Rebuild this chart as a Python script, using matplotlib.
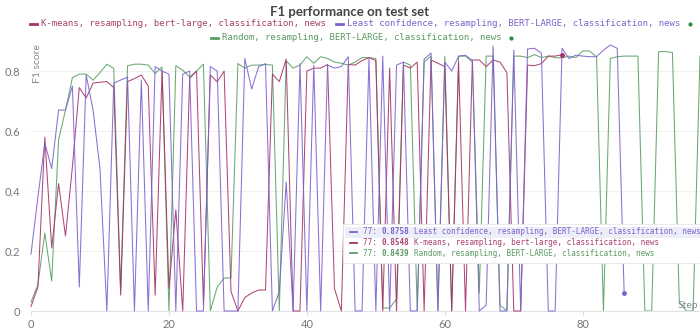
import matplotlib
matplotlib.use('Agg')
import matplotlib.pyplot as plt
from matplotlib.lines import Line2D
from matplotlib.patches import Rectangle

# step index is the position in each list
kmeans = [0.015, 0.08, 0.58, 0.21, 0.425, 0.25, 0.48, 0.745, 0.71, 0.76,
          0.763, 0.765, 0.745, 0.053, 0.765, 0.775, 0.787, 0.75, 0.053, 0.80,
          0.075, 0.337, 0.0, 0.776, 0.80, 0.02, 0.787, 0.764, 0.80, 0.065,
          0.0, 0.045, 0.06, 0.07, 0.07, 0.79, 0.765, 0.84, 0.0, 0.0,
          0.80, 0.81, 0.81, 0.822, 0.075, 0.0, 0.822, 0.82, 0.835, 0.845,
          0.835, 0.0, 0.81, 0.0, 0.82, 0.81, 0.83, 0.0, 0.837, 0.826,
          0.815, 0.0, 0.83, 0.0, 0.837, 0.837, 0.815, 0.837, 0.83, 0.795,
          0.0, 0.0, 0.82, 0.818, 0.825, 0.85, 0.85, 0.8548]

least_conf = [0.19, 0.38, 0.56, 0.475, 0.67, 0.67, 0.75, 0.08, 0.787, 0.67,
              0.475, 0.0, 0.76, 0.77, 0.78, 0.0, 0.77, 0.0, 0.815, 0.80,
              0.79, 0.0, 0.79, 0.80, 0.0, 0.0, 0.815, 0.80, 0.0, 0.0,
              0.0, 0.842, 0.74, 0.815, 0.825, 0.0, 0.065, 0.43, 0.0, 0.825,
              0.0, 0.82, 0.0, 0.82, 0.81, 0.815, 0.848, 0.0, 0.0, 0.842,
              0.0, 0.85, 0.0, 0.82, 0.83, 0.0, 0.0, 0.84, 0.86, 0.0,
              0.83, 0.80, 0.85, 0.853, 0.835, 0.0, 0.02, 0.883, 0.0, 0.0,
              0.87, 0.0, 0.874, 0.876, 0.86, 0.0, 0.0, 0.8758, 0.842, 0.853,
              0.85, 0.848, 0.848, 0.87, 0.887, 0.876, 0.06]

random_s = [0.03, 0.087, 0.26, 0.10, 0.57, 0.67, 0.778, 0.79, 0.79, 0.77,
            0.795, 0.823, 0.809, 0.07, 0.818, 0.823, 0.823, 0.82, 0.792, 0.814,
            0.0, 0.818, 0.803, 0.78, 0.80, 0.823, 0.0, 0.08, 0.11, 0.11,
            0.825, 0.81, 0.82, 0.82, 0.822, 0.82, 0.0, 0.834, 0.81, 0.82,
            0.848, 0.826, 0.848, 0.842, 0.83, 0.826, 0.82, 0.83, 0.845, 0.845,
            0.842, 0.01, 0.01, 0.04, 0.83, 0.82, 0.0, 0.83, 0.85, 0.0,
            0.85, 0.0, 0.85, 0.85, 0.83, 0.06, 0.85, 0.85, 0.02, 0.0,
            0.85, 0.85, 0.845, 0.855, 0.845, 0.85, 0.845, 0.8439, 0.85, 0.845,
            0.867, 0.867, 0.848, 0.0, 0.842, 0.848, 0.85, 0.85, 0.85, 0.0,
            0.0, 0.865, 0.865, 0.862, 0.03, 0.0, 0.0, 0.85]

names = ['K-means, resampling, bert-large, classification, news',
         'Least confidence, resampling, BERT-LARGE, classification, news',
         'Random, resampling, BERT-LARGE, classification, news']
line_colors = ['#a5336a', '#7f60cf', '#58a062']
text_colors = ['#a8406f', '#7d62cc', '#5b9a62']
hover_step = 77

x_ticks = [0, 20, 40, 60, 80]
y_ticks = [0, 0.2, 0.4, 0.6, 0.8]

W, H = 700, 331
MONO = 'DejaVu Sans Mono'


def fx(px):
    return px / W


def fy(py):
    return 1 - py / H


fig = plt.figure(figsize=(7, 3.31), dpi=100)
ax = fig.add_axes([fx(31), fy(311), fx(669), 266 / H])

series = [kmeans, least_conf, random_s]
order = [2, 0, 1]
for i in order:
    vals = series[i]
    ax.plot(range(len(vals)), vals, color=line_colors[i], lw=0.75, alpha=0.9,
            clip_on=False, zorder=2 + order.index(i))
# end markers for finished runs
for i in [0, 1]:
    vals = series[i]
    ax.plot([len(vals) - 1], [vals[-1]], 'o', ms=2.5, color=line_colors[i],
            clip_on=False, zorder=4)

ax.set_xlim(0, 97)
ax.set_ylim(0, 0.887)
ax.set_xticks(x_ticks)
ax.set_yticks(y_ticks)
ax.set_yticklabels(['%g' % v for v in y_ticks])
for s in ['top', 'right', 'left']:
    ax.spines[s].set_visible(False)
ax.spines['bottom'].set_color('#e2e2e2')
ax.grid(axis='y', color='#f1f1f1', lw=0.8)
ax.set_axisbelow(True)
ax.tick_params(axis='y', length=0, pad=8, labelsize=8, labelcolor='#777')
ax.tick_params(axis='x', length=3, color='#dddddd', pad=3, labelsize=8,
               labelcolor='#777')
for lab in ax.get_xticklabels() + ax.get_yticklabels():
    lab.set_fontfamily('Lato')

fig.text(fx(350), fy(12), 'F1 performance on test set', ha='center', va='center',
         fontsize=9.5, fontweight='bold', color='#444', family='Lato')
fig.text(fx(37), fy(64), 'F1 score', rotation=90, ha='center', va='center',
         fontsize=7.5, color='#888', family='Lato')
fig.text(fx(698), fy(305), 'Step', ha='right', va='center', fontsize=7.5,
         color='#888', family='Lato')

# legend (manual, two centred rows)
leg_size = 6.5
cw = 0.602 * leg_size * 100 / 72
legend_rows = [(24, [(0, 30), (1, 336)]), (37.5, [(2, 211)])]
for ry, items in legend_rows:
    for i, x0 in items:
        fig.add_artist(Line2D([fx(x0), fx(x0 + 7)], [fy(ry), fy(ry)],
                              transform=fig.transFigure, color=line_colors[i], lw=2))
        fig.text(fx(x0 + 11), fy(ry), names[i], ha='left', va='center',
                 fontsize=leg_size, family=MONO, color=text_colors[i])
        if i != 0:
            dot_x = x0 + 11 + len(names[i]) * cw + 6
            fig.add_artist(Line2D([fx(dot_x)], [fy(ry)], marker='o', ms=2,
                                  transform=fig.transFigure, color='#2f8a3c'))

# hover tooltip at the step
fig.add_artist(Rectangle((fx(343), fy(263)), fx(357), 39 / H,
                         transform=fig.transFigure, facecolor='white',
                         edgecolor='#e6e6e6', lw=0.6, zorder=10))
fig.add_artist(Rectangle((fx(345), fy(238)), fx(355), 11.5 / H,
                         transform=fig.transFigure, facecolor='#eceef8',
                         edgecolor='none', zorder=11))
tip_size = 5.5
tcw = 0.602 * tip_size * 100 / 72
tip_order = [1, 0, 2]
for row, i in enumerate(tip_order):
    ry = 232 + row * 10.5
    fig.add_artist(Line2D([fx(350), fx(357)], [fy(ry), fy(ry)],
                          transform=fig.transFigure, color=line_colors[i], lw=1.3,
                          zorder=12))
    x0 = 363
    fig.text(fx(x0), fy(ry), '%d: ' % hover_step, ha='left', va='center',
             fontsize=tip_size, family=MONO, color=text_colors[i], zorder=12)
    fig.text(fx(x0 + 4 * tcw), fy(ry), '%.4f' % series[i][hover_step], ha='left',
             va='center', fontsize=tip_size, family=MONO, fontweight='bold',
             color=text_colors[i], zorder=12)
    fig.text(fx(x0 + 11 * tcw), fy(ry), names[i], ha='left', va='center',
             fontsize=tip_size, family=MONO, color=text_colors[i], zorder=12)

plt.savefig('out.png', dpi=100)
